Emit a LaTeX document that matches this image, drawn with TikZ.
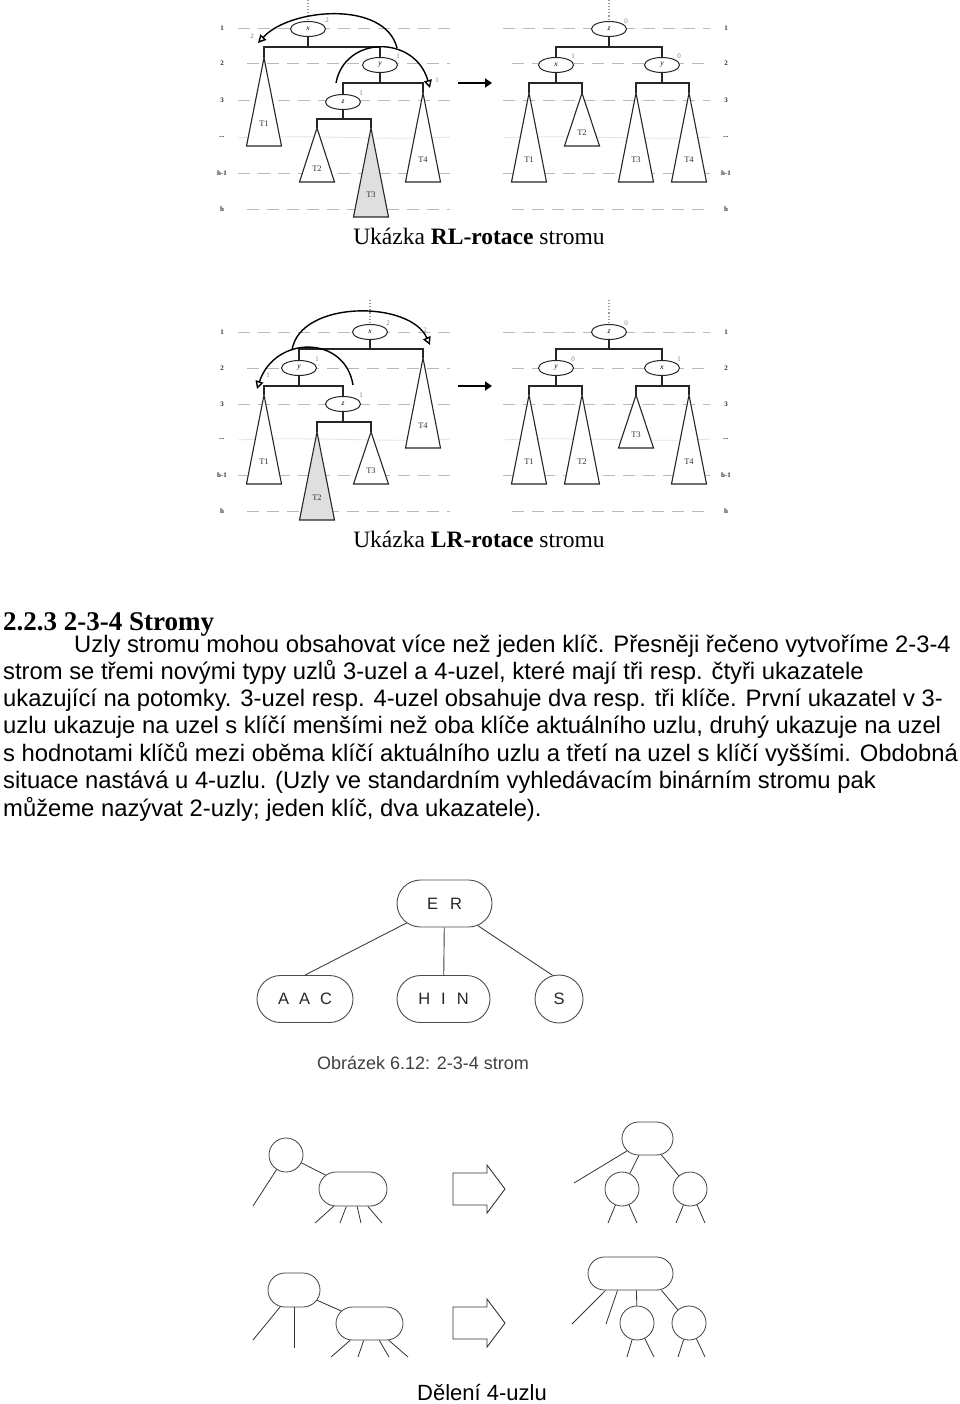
\documentclass[tikz,border=0pt]{standalone}
\usepackage{fontspec}
\setmainfont{Liberation Serif}
\newfontfamily\arial{Liberation Sans}
\usetikzlibrary{shapes.geometric,shapes.misc,arrows.meta,calc}
\newcommand{\mytri}[6][]{%
  \coordinate (#2) at (#3,#4);
  \draw[tri,#1] (#2) -- (#3-17.5,#5) -- (#3+17.5,#5) -- cycle;
  \node[tlab] (#2l) at (#3,{#4+0.75*(#5-#4)}) {#6};}
\begin{document}
\begin{tikzpicture}[x=1pt,y=-1pt,
  lvl/.style={gray!55, line width=0.9pt, dash pattern=on 12pt off 8pt},
  faint/.style={gray!22, line width=0.9pt},
  tedge/.style={black!85, line width=1.1pt},
  tri/.style={black!85, line width=1.1pt, fill=white, line join=miter},
  ell/.style={draw=black!85, fill=white, line width=1pt, ellipse, minimum width=35pt, minimum height=15pt, inner sep=0pt, font=\fontsize{7.5}{8}\selectfont\itshape},
  bal/.style={text=gray, font=\fontsize{7}{8}\selectfont, inner sep=0pt},
  tlab/.style={font=\fontsize{8.5}{9}\selectfont, text=black!80, inner sep=0pt},
  levl/.style={font=\fontsize{7}{8}\selectfont\bfseries, text=black!80, inner sep=0pt},
  rootdot/.style={gray!80, dotted, line width=1.1pt},
  rot/.style={black, line width=1.4pt, -{Triangle[open,length=8pt,width=8pt]}},
  bigarr/.style={black, line width=2.6pt, -{Triangle[length=7pt,width=9pt]}},
  body/.style={anchor=base west, inner sep=0pt, font=\arial\fontsize{23.8}{27}\selectfont},
  captext/.style={anchor=base, inner sep=0pt, font=\fontsize{23.5}{26}\selectfont},
  kn/.style={draw=black!70, line width=0.9pt, rounded rectangle, minimum height=47pt, inner sep=0pt, font=\arial\fontsize{16.5}{18}\selectfont, text=black!85},
  sn/.style={draw=black!75, line width=0.8pt, inner sep=0pt},
  stad/.style={sn, rounded rectangle, minimum height=34pt},
  circ/.style={sn, circle, minimum size=34pt},
  lnk/.style={black!80, line width=0.8pt},
  blockarr/.style={black!80, line width=0.9pt, line join=miter}
]
\useasboundingbox (0,0) rectangle (960,1404);

% ================= Figure 1: RL rotation =================
\foreach \yy/\sl/\sr/\lab in {28/238/503/1, 63/247/512/2, 100/238/503/3, 173/238/503/h-1, 209/247/512/h}{
  \draw[lvl] (\sl,\yy) -- (450,\yy);
  \draw[lvl] (\sr,\yy) -- (710,\yy);
  \node[levl] at (222,\yy) {\lab};
  \node[levl] at (726,\yy) {\lab};
}
\draw[faint] (238,138) .. controls (300,134) and (400,141) .. (450,137);
\draw[faint] (503,138) .. controls (560,134) and (660,141) .. (710,137);
\node[levl] at (222,137) {...};
\node[levl] at (726,137) {...};

% left tree
\coordinate (r1) at (308,0);
\node[ell] (x1) at (308,29) {x};
\draw[rootdot] (r1) -- (x1);
\node[bal] at (327,20) {2};
\coordinate (b11) at (0,47);
\coordinate (b12) at (0,83);
\coordinate (b13) at (0,119);
\mytri{t11}{264}{58}{146}{T1}
\mytri{t41}{423}{93}{182}{T4}
\mytri{t21}{317}{128}{182}{T2}
\mytri[fill=gray!25]{t31}{371}{128}{217}{T3}
\node[ell] (y1) at (380,65) {y};
\node[bal] at (398,56) {1};
\node[ell] (z1) at (343,102) {z};
\node[bal] at (361,93) {1};
\draw[tedge] (x1) -- (x1 |- b11);
\draw[tedge] (t11) -- (t11 |- b11) -- (y1 |- b11) -- (y1);
\draw[tedge] (y1) -- (y1 |- b12);
\draw[tedge] (z1) -- (z1 |- b12) -- (t41 |- b12) -- (t41);
\draw[tedge] (z1) -- (z1 |- b13);
\draw[tedge] (t21) -- (t21 |- b13) -- (t31 |- b13) -- (t31);
% rotation arcs
\coordinate (a1s) at (397,48); \coordinate (a1e) at (258,43);
\draw[rot] (a1s) .. controls (385,0) and (290,8) .. (a1e);
\node[bal] at (252,36) {2};
\coordinate (a2s) at (336,83); \coordinate (a2e) at (430,88);
\draw[rot] (a2s) .. controls (345,35) and (415,35) .. (a2e);
\node[bal] at (437,80) {1};
% big arrow
\coordinate (ba1) at (458,83); \coordinate (bb1) at (492,83);
\draw[bigarr] (ba1) -- (bb1);

% right tree
\coordinate (r2) at (609,0);
\node[ell] (z2) at (609,29) {z};
\draw[rootdot] (r2) -- (z2);
\node[bal] at (626,21) {0};
\coordinate (b21) at (0,47);
\coordinate (b22) at (0,83);
\mytri{t12}{529}{93}{182}{T1}
\mytri{t22}{582}{93}{146}{T2}
\mytri{t32}{636}{93}{182}{T3}
\mytri{t42}{689}{93}{182}{T4}
\node[ell] (x2) at (556,65) {x};
\node[bal] at (573,56) {1};
\node[ell] (y2) at (662,65) {y};
\node[bal] at (679,56) {0};
\draw[tedge] (z2) -- (z2 |- b21);
\draw[tedge] (x2) -- (x2 |- b21) -- (y2 |- b21) -- (y2);
\draw[tedge] (x2) -- (x2 |- b22);
\draw[tedge] (t12) -- (t12 |- b22) -- (t22 |- b22) -- (t22);
\draw[tedge] (y2) -- (y2 |- b22);
\draw[tedge] (t32) -- (t32 |- b22) -- (t42 |- b22) -- (t42);

\node[captext] (cap1) at (479,245) {Ukázka \textbf{RL-rotace} stromu};

% ================= Figure 2: LR rotation =================
\foreach \yy/\sl/\sr/\lab in {332/238/503/1, 368/247/512/2, 404/238/503/3, 475/238/503/h-1, 511/247/512/h}{
  \draw[lvl] (\sl,\yy) -- (450,\yy);
  \draw[lvl] (\sr,\yy) -- (710,\yy);
  \node[levl] at (222,\yy) {\lab};
  \node[levl] at (726,\yy) {\lab};
}
\draw[faint] (238,440) .. controls (300,436) and (400,443) .. (450,439);
\draw[faint] (503,440) .. controls (560,436) and (660,443) .. (710,439);
\node[levl] at (222,439) {...};
\node[levl] at (726,439) {...};

% left tree
\coordinate (r3) at (370,300);
\node[ell] (x3) at (370,332) {x};
\draw[rootdot] (r3) -- (x3);
\node[bal] at (388,323) {2};
\coordinate (b31) at (0,349);
\coordinate (b32) at (0,386);
\coordinate (b33) at (0,422);
\mytri{t43}{423}{358}{448}{T4}
\mytri{t13}{264}{395}{484}{T1}
\mytri[fill=gray!25]{t23}{317}{432}{520}{T2}
\mytri{t33}{371}{432}{484}{T3}
\node[ell] (y3) at (299,368) {y};
\node[bal] at (317,359) {1};
\node[ell] (z3) at (343,404) {z};
\node[bal] at (361,395) {1};
\draw[tedge] (x3) -- (x3 |- b31);
\draw[tedge] (y3) -- (y3 |- b31) -- (t43 |- b31) -- (t43);
\draw[tedge] (y3) -- (y3 |- b32);
\draw[tedge] (t13) -- (t13 |- b32) -- (z3 |- b32) -- (z3);
\draw[tedge] (z3) -- (z3 |- b33);
\draw[tedge] (t23) -- (t23 |- b33) -- (t33 |- b33) -- (t33);
% rotation arcs
\coordinate (a3s) at (292,350); \coordinate (a3e) at (430,345);
\draw[rot] (a3s) .. controls (300,300) and (410,300) .. (a3e);
\node[bal] at (425,330) {2};
\coordinate (a4s) at (353,385); \coordinate (a4e) at (257,389);
\draw[rot] (a4s) .. controls (345,335) and (275,335) .. (a4e);
\node[bal] at (268,375) {1};
\coordinate (ba2) at (458,386); \coordinate (bb2) at (492,386);
\draw[bigarr] (ba2) -- (bb2);

% right tree
\coordinate (r4) at (609,300);
\node[ell] (z4) at (609,332) {z};
\draw[rootdot] (r4) -- (z4);
\node[bal] at (626,323) {0};
\coordinate (b41) at (0,349);
\coordinate (b42) at (0,386);
\mytri{t14}{529}{395}{484}{T1}
\mytri{t24}{582}{395}{484}{T2}
\mytri{t34}{636}{395}{448}{T3}
\mytri{t44}{689}{395}{484}{T4}
\node[ell] (y4) at (556,368) {y};
\node[bal] at (573,359) {0};
\node[ell] (x4) at (662,368) {x};
\node[bal] at (679,359) {1};
\draw[tedge] (z4) -- (z4 |- b41);
\draw[tedge] (y4) -- (y4 |- b41) -- (x4 |- b41) -- (x4);
\draw[tedge] (y4) -- (y4 |- b42);
\draw[tedge] (t14) -- (t14 |- b42) -- (t24 |- b42) -- (t24);
\draw[tedge] (x4) -- (x4 |- b42);
\draw[tedge] (t34) -- (t34 |- b42) -- (t44 |- b42) -- (t44);

\node[captext] (cap2) at (479,547) {Ukázka \textbf{LR-rotace} stromu};

% ================= Text =================
\node[anchor=base west, inner sep=0pt, font=\fontsize{27}{30}\selectfont\bfseries] (head) at (3,630) {2.2.3 2-3-4 Stromy};
\node[body] (l1) at (74,652) {Uzly stromu mohou obsahovat více než jeden klíč. Přesněji řečeno vytvoříme 2-3-4};
\node[body] (l2) at (3,679) {strom se třemi novými typy uzlů 3-uzel a 4-uzel, které mají tři resp. čtyři ukazatele};
\node[body] (l3) at (3,706) {ukazující na potomky. 3-uzel resp. 4-uzel obsahuje dva resp. tři klíče. První ukazatel v 3-};
\node[body] (l4) at (3,733.5) {uzlu ukazuje na uzel s klíčí menšími než oba klíče aktuálního uzlu, druhý ukazuje na uzel};
\node[body] (l5) at (3,761) {s hodnotami klíčů mezi oběma klíčí aktuálního uzlu a třetí na uzel s klíčí vyššími. Obdobná};
\node[body] (l6) at (3,788.5) {situace nastává u 4-uzlu. (Uzly ve standardním vyhledávacím binárním stromu pak};
\node[body] (l7) at (3,816) {můžeme nazývat 2-uzly; jeden klíč, dva ukazatele).};

% ================= 2-3-4 tree =================
\node[kn, minimum width=95pt] (ER) at (444.5,903.5) {E\hspace{12pt}R};
\node[kn, minimum width=96pt] (AAC) at (305,999) {A\hspace{10pt}A\hspace{10pt}C};
\node[kn, minimum width=93pt] (HIN) at (443.5,999) {H\hspace{11pt}I\hspace{11pt}N};
\node[kn, circle, minimum size=48pt] (S) at (559,999) {S};
\draw[black!75, line width=0.9pt] (ER) -- (AAC.north);
\draw[black!75, line width=0.9pt] (ER) -- (HIN);
\draw[black!75, line width=0.9pt] (ER) -- (S.105);
\node[anchor=base, inner sep=0pt, font=\arial\fontsize{18}{20}\selectfont, text=black!75] (cap3) at (423,1069) {Obrázek 6.12: 2-3-4 strom};

% ================= 4-node split =================
% top row, left
\node[circ] (c1) at (286,1155) {};
\node[stad, minimum width=68pt] (s1) at (353,1189) {};
\coordinate (e1) at (253,1206);
\coordinate (e2) at (315,1223);
\coordinate (e3) at (340,1223);
\coordinate (e4) at (361,1223);
\coordinate (e5) at (382,1223);
\draw[lnk] (c1) -- (e1);
\draw[lnk] (c1) -- (s1);
\foreach \e in {e2,e3,e4,e5} \draw[lnk] (s1) -- (\e);
% arrow
\draw[blockarr] (453,1173) -- (487,1173) -- (487,1165) -- (505,1189) -- (487,1213) -- (487,1205) -- (453,1205) -- cycle;
% top row, right
\node[stad, minimum width=51pt, minimum height=33pt] (s2) at (647.5,1138.5) {};
\node[circ] (c2) at (622,1189) {};
\node[circ] (c3) at (690,1189) {};
\coordinate (f1) at (574,1183);
\coordinate (f2) at (608,1223);
\coordinate (f3) at (637,1223);
\coordinate (f4) at (676,1223);
\coordinate (f5) at (705,1223);
\draw[lnk] (s2) -- (f1);
\draw[lnk] (s2) -- (c2);
\draw[lnk] (s2) -- (c3);
\draw[lnk] (c2) -- (f2);
\draw[lnk] (c2) -- (f3);
\draw[lnk] (c3) -- (f4);
\draw[lnk] (c3) -- (f5);

% bottom row, left
\node[stad, minimum width=52pt] (s3) at (294,1290) {};
\node[stad, minimum width=67pt, minimum height=33pt] (s4) at (369.5,1323.5) {};
\coordinate (g1) at (253,1340);
\coordinate (g2) at (294,1348);
\coordinate (g3) at (331,1357);
\coordinate (g4) at (358,1357);
\coordinate (g5) at (389,1357);
\coordinate (g6) at (408,1357);
\draw[lnk] (s3) -- (g1);
\draw[lnk] (s3) -- (g2);
\draw[lnk] (s3) -- (s4);
\foreach \g in {g3,g4,g5,g6} \draw[lnk] (s4) -- (\g);
% arrow
\draw[blockarr] (453,1307) -- (487,1307) -- (487,1299) -- (505,1323) -- (487,1347) -- (487,1339) -- (453,1339) -- cycle;
% bottom row, right
\node[stad, minimum width=85pt, minimum height=33pt] (s5) at (630.5,1273.5) {};
\node[circ] (c4) at (637,1323) {};
\node[circ] (c5) at (689,1323) {};
\coordinate (h1) at (572,1324);
\coordinate (h2) at (606,1324);
\coordinate (h3) at (627,1357);
\coordinate (h4) at (654,1357);
\coordinate (h5) at (678,1357);
\coordinate (h6) at (705,1357);
\draw[lnk] ([xshift=-25pt]s5.south) -- (h1);
\draw[lnk] ([xshift=-13pt]s5.south) -- (h2);
\draw[lnk] ([xshift=6pt]s5.south) -- (c4);
\draw[lnk] ([xshift=31pt]s5.south) -- (c5);
\draw[lnk] (c4) -- (h3);
\draw[lnk] (c4) -- (h4);
\draw[lnk] (c5) -- (h5);
\draw[lnk] (c5) -- (h6);

\node[anchor=base, inner sep=0pt, font=\arial\fontsize{22}{24}\selectfont] (cap4) at (482,1400) {Dělení 4-uzlu};
\end{tikzpicture}
\end{document}
